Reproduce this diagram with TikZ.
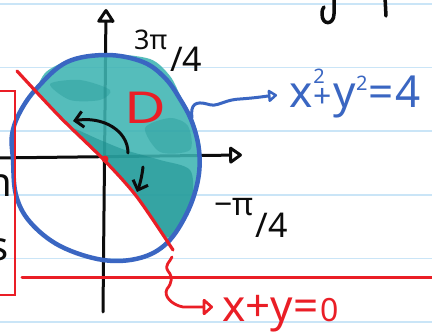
\documentclass[tikz,border=0pt]{standalone}
\usepackage{fontspec}
\setmainfont{Noto Sans}
\usetikzlibrary{arrows.meta}
\definecolor{ruled}{RGB}{202,229,247}
\definecolor{inkblue}{RGB}{58,102,194}
\definecolor{inkred}{RGB}{234,30,38}
\definecolor{inkblack}{RGB}{12,12,12}
\definecolor{tealA}{RGB}{62,180,178}
\definecolor{tealB}{RGB}{22,140,140}
\begin{document}
\begin{tikzpicture}[x=1pt,y=-1pt,line cap=round,line join=round,
  ruleline/.style={ruled,line width=1.6pt},
  axisline/.style={inkblack,line width=3pt},
  inkarrow/.style={inkblack,line width=3pt,-{Straight Barb[length=8pt,width=16pt]}},
  bluelbl/.style={inkblue,inner sep=0pt},
  redlbl/.style={inkred,inner sep=0pt},
  blacklbl/.style={inkblack,inner sep=0pt}]
\useasboundingbox (0,0) rectangle (432,336);
\clip (0,0) rectangle (432,336);
\fill[white] (0,0) rectangle (432,336);
% ruled paper
\foreach \yy in {4,67.6,131.2,194.8,258.4,322} \draw[ruleline] (-5,\yy) -- (440,\yy);
% axes
\coordinate (ybot) at (103,312);
\coordinate (ytop) at (106,9);
\coordinate (xleft) at (-4,158);
\coordinate (xright) at (242,155);
\draw[axisline,-{Triangle[open,round,length=15pt,width=19pt]}] (ybot) -- (ytop);
\draw[axisline,-{Triangle[open,round,length=14pt,width=19pt]}] (xleft) -- (xright);
% shaded region D
\fill[tealA,opacity=0.88] plot[smooth] coordinates {(36,90) (60,117) (104,160) (137,197) (168,243)}
  -- plot[smooth] coordinates {(178,230) (189,212) (199,180) (201,150) (194,122) (181,97) (170,76) (150,59) (107,54) (70,60) (46,72) (36,90)} -- cycle;
\fill[tealB,opacity=0.5] plot[smooth cycle] coordinates {(70,128) (100,140) (125,150) (160,160) (190,170) (192,200) (180,228) (165,236) (137,197) (104,160)};
\fill[tealB,opacity=0.3] plot[smooth cycle] coordinates {(50,84) (80,80) (110,90) (100,100) (70,100)};
\fill[tealB,opacity=0.3] plot[smooth cycle] coordinates {(145,128) (170,118) (188,126) (190,150) (160,152)};
% circle x^2+y^2=4
\draw[inkblue,line width=4.5pt] plot[smooth cycle,tension=0.6] coordinates {(13,160) (16,195) (30,222) (60,246) (103,260) (140,258) (167,243) (187,213) (198,180) (199,150) (192,122) (180,99) (165,78) (143,62) (107,55) (67,62) (37,88) (20,112) (12,135)};
% line x+y=0
\draw[inkred,line width=3.2pt] plot[smooth] coordinates {(17,71) (60,117) (104,160) (137,197) (173,250)};
\fill[inkred] (105,159) circle (3.5);
% red box and rule
\draw[inkred,line width=2.5pt,line join=miter,line cap=butt] (-3,91) -- (15,91) -- (15,295) -- (-3,295);
\draw[inkred,line width=3pt] (22,278) -- (440,278);
% angle arrows
\coordinate (a1s) at (128,153);
\coordinate (a1e) at (73,121);
\coordinate (a2s) at (143,167);
\coordinate (a2e) at (137,192);
\draw[inkarrow] (a1s) .. controls (128,130) and (102,116) .. (a1e);
\draw[inkarrow] (a2s) .. controls (142,176) and (140,184) .. (a2e);
% labels
\node[redlbl,font=\fontsize{44}{44}\selectfont,xscale=1.3] (D) at (145,108) {D};
\node[blacklbl,anchor=base west] (ang1) at (134,50) {\fontsize{27}{27}\selectfont 3π\kern3pt\raisebox{-22pt}{\fontsize{34}{34}\selectfont /4}};
\node[blacklbl,anchor=base west] (ang2) at (214,216) {\fontsize{32}{32}\selectfont −π\kern2pt\raisebox{-22pt}{\fontsize{34}{34}\selectfont /4}};
\node[bluelbl,anchor=base west] (circlbl) at (289,108) {\fontsize{44}{44}\selectfont x\kern1pt\rlap{\raisebox{24pt}{\fontsize{20}{20}\selectfont 2}}{\fontsize{32}{32}\selectfont +}\kern2pt y\raisebox{17pt}{\fontsize{20}{20}\selectfont 2}\kern1pt=\kern2pt4};
\node[redlbl,anchor=base west] (linelbl) at (222,322) {\fontsize{44}{44}\selectfont x+y=\kern2pt{\fontsize{32}{32}\selectfont 0}};
% connectors
\coordinate (bc) at (192,118);
\draw[inkblue,line width=3pt,-{Triangle[open,round,length=10pt,width=14pt]},shorten >=12pt]
  (bc) .. controls (190,104) and (196,101) .. (207,104) .. controls (218,108) and (222,100) .. (240,99) .. controls (255,98) and (268,96) .. (circlbl.west);
\coordinate (rc) at (172,257);
\draw[inkred,line width=2.8pt,-{Triangle[open,round,length=11pt,width=19pt]},shorten >=9pt]
  (rc) .. controls (170,262) and (164,265) .. (168,271) .. controls (173,277) and (172,283) .. (167,289) .. controls (163,296) and (172,305) .. (183,307) -- (linelbl.west |- 0,307);
% fragments of text cut off at the edges
\draw[inkblack,line width=3.5pt] (334,-3) -- (334,14) .. controls (334,25) and (322,26) .. (322,14) .. controls (322,10) and (323,8) .. (324,7);
\draw[inkblack,line width=3.5pt] (385,-3) -- (386,16);
\node[blacklbl,anchor=base east,font=\fontsize{40}{40}\selectfont] (nfrag) at (12,197) {n};
\node[blacklbl,anchor=base east,font=\fontsize{40}{40}\selectfont] (sfrag) at (9,261) {s};
\end{tikzpicture}
\end{document}
